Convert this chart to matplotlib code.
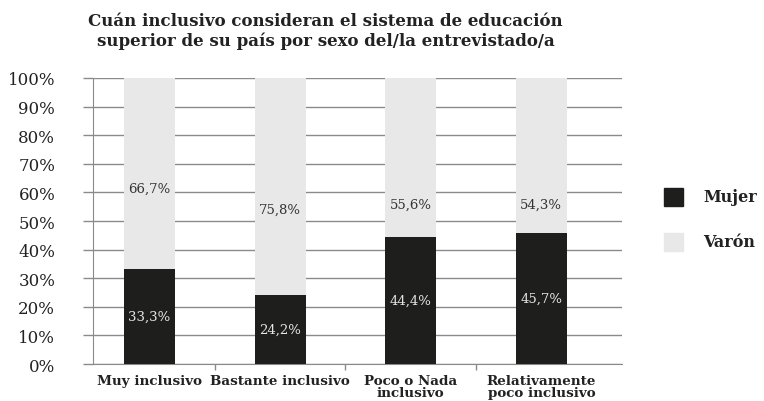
import matplotlib
matplotlib.use('Agg')
import matplotlib.pyplot as plt
from matplotlib.patches import Rectangle

# data
categories = ['Muy inclusivo', 'Bastante inclusivo', 'Poco o Nada\ninclusivo',
              'Relativamente\npoco inclusivo']
mujer = [33.3, 24.2, 44.4, 45.7]
varon = [66.7, 75.8, 55.6, 54.3]
series_names = ['Mujer', 'Varón']

# layout: where the light labels sit in the source (percent of axis)
varon_label_y = [61.5, 54.0, 56.0, 56.0]

black = '#1e1e1c'
light = '#e8e8e8'
grid_c = '#8a8a8a'
serif = ['DejaVu Serif']

plt.rcParams['font.family'] = serif

fig = plt.figure(figsize=(7.64, 4.02), dpi=100)
ax = fig.add_axes([0.1213, 0.092, 0.8137 - 0.1213, 0.8035 - 0.092])

x = list(range(len(categories)))
w = 0.39
ax.bar(x, mujer, width=w, color=black, zorder=3)
ax.bar(x, varon, width=w, bottom=mujer, color=light, zorder=3)

def fmt(v):
    return f'{v:.1f}%'.replace('.', ',')

for i in x:
    ax.text(i, mujer[i] / 2, fmt(mujer[i]), ha='center', va='center',
            fontsize=9.5, color='#e6e6e6', zorder=4)
    ax.text(i, varon_label_y[i], fmt(varon[i]), ha='center', va='center',
            fontsize=9.5, color='#333333', zorder=4)

ax.set_xlim(-0.435, 3.615)
ax.set_ylim(0, 100)
ax.set_yticks(range(0, 101, 10))
ax.set_yticklabels([f'{t}%' for t in range(0, 101, 10)], fontsize=12, color='#222222')
ax.yaxis.grid(True, color=grid_c, lw=1, zorder=0)
ax.tick_params(axis='y', length=7, color=grid_c, width=1, pad=20)

ax.set_xticks(x)
ax.set_xticklabels(categories, fontsize=9.7, fontweight='bold', color='#222222',
                   linespacing=0.95)
ax.set_xticks([0.5, 1.5, 2.5], minor=True)
ax.tick_params(axis='x', which='major', length=0, pad=7)
ax.tick_params(axis='x', which='minor', length=4, color=grid_c, width=1)

for s in ['top', 'right']:
    ax.spines[s].set_visible(False)
ax.spines['left'].set_color(grid_c)
ax.spines['bottom'].set_color(grid_c)

fig.text(0.426, 0.968, 'Cuán inclusivo consideran el sistema de educación\n'
         'superior de su país por sexo del/la entrevistado/a',
         ha='center', va='top', fontsize=12, fontweight='bold',
         color='#222222', linespacing=1.2)

# legend
for k, (name, c) in enumerate(zip(series_names, [black, light])):
    y0 = 1 - 207 / 402 - k * 45 / 402
    fig.patches.append(Rectangle((664 / 764, y0), 19 / 764, 18 / 402,
                                 transform=fig.transFigure, color=c))
    fig.text(703 / 764, y0 + 9 / 402, name, ha='left', va='center',
             fontsize=11.5, fontweight='bold', color='#222222')

fig.savefig('out.png', dpi=100)
